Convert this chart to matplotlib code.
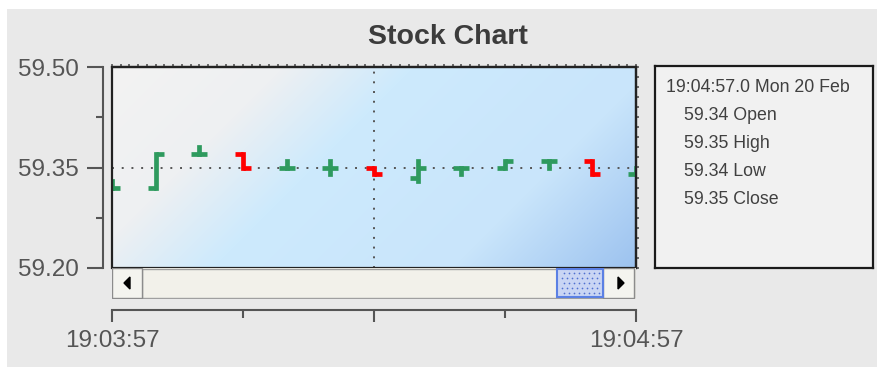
import numpy as np
import matplotlib
matplotlib.use('Agg')
import matplotlib.pyplot as plt
from matplotlib.patches import Rectangle, Polygon
from matplotlib.colors import to_rgb

plt.rcParams['font.family'] = ['Liberation Sans', 'DejaVu Sans']

# data: 5 second bars, x in seconds from 19:03:57
times = [0, 5, 10, 15, 20, 25, 30, 35, 40, 45, 50, 55, 60]
opens = [59.32, 59.32, 59.37, 59.37, 59.35, 59.35, 59.35, 59.335, 59.35, 59.35, 59.36, 59.36, 59.34]
highs = [59.33, 59.37, 59.38, 59.37, 59.36, 59.36, 59.35, 59.36, 59.35, 59.36, 59.36, 59.36, 59.35]
lows = [59.32, 59.32, 59.37, 59.35, 59.35, 59.34, 59.34, 59.33, 59.34, 59.35, 59.35, 59.34, 59.34]
closes = [59.32, 59.37, 59.37, 59.35, 59.35, 59.35, 59.34, 59.35, 59.35, 59.36, 59.36, 59.34, 59.35]

y_ticks = [59.20, 59.35, 59.50]
y_minor = [59.275, 59.425]
x_ticks = [0, 30, 60]
x_labels = ['19:03:57', '', '19:04:57']
x_minor = [15, 45]
cross_x = 30
cross_y = 59.35
legend_time = '19:04:57.0 Mon 20 Feb'

W, H = 878, 367
fig = plt.figure(figsize=(W / 100, H / 100), dpi=100)
fig.patch.set_facecolor('white')
fig.patches.append(Rectangle((7 / W, 0), 1, 1 - 9 / H, transform=fig.transFigure,
                             facecolor='#e9e9e9', edgecolor='none', zorder=-10))

def box(x0, y0, x1, y1):
    return [x0 / W, 1 - y1 / H, (x1 - x0) / W, (y1 - y0) / H]

fig.text(448 / W, 1 - 37 / H, 'Stock Chart', ha='center', va='center',
         fontsize=20.5, fontweight='bold', color='#3c3c3c')

# main plot
ax = fig.add_axes(box(112, 67, 636, 268))
ax.set_xlim(0, 60)
ax.set_ylim(59.20, 59.50)

# background gradient
gx, gy = np.meshgrid(np.arange(524), np.arange(201))
s = gx + gy
stops = [0, 170, 300, 540, 725]
cols = [to_rgb(c) for c in ['#f3f3f3', '#eef0f2', '#cdeafd', '#c9e5fb', '#9cc2ef']]
img = np.dstack([np.interp(s, stops, [c[i] for c in cols]) for i in range(3)])
ax.imshow(img, extent=[0, 1, 0, 1], transform=ax.transAxes, aspect='auto', zorder=0)

# crosshair
ax.axvline(cross_x, color='#555555', lw=1.4, ls=(0, (1, 4)), zorder=2)
ax.axhline(cross_y, color='#555555', lw=1.4, ls=(0, (1, 4)), zorder=2)

# OHLC bars
w = 0.9
for t, o, h, l, c in zip(times, opens, highs, lows, closes):
    col = '#2e9a5e' if c >= o else '#ff0000'
    ax.plot([t, t], [l, h], color=col, lw=3.4, solid_capstyle='projecting', zorder=3)
    ax.plot([t - w, t], [o, o], color=col, lw=3.4, solid_capstyle='butt', zorder=3)
    ax.plot([t, t + w], [c, c], color=col, lw=3.4, solid_capstyle='butt', zorder=3)

# frame
for sp in ['top', 'right']:
    ax.spines[sp].set_color('#222222')
    ax.spines[sp].set_linewidth(1.6)
ax.add_patch(Rectangle((0, 0), 1, 1, transform=ax.transAxes, fill=False,
                       edgecolor='#222222', lw=1.6, zorder=5, clip_on=False))

# axes lines offset outward
ax.spines['left'].set_position(('outward', 6.5))
ax.spines['bottom'].set_position(('outward', 30))
for sp in ['left', 'bottom']:
    ax.spines[sp].set_color('#555555')
    ax.spines[sp].set_linewidth(1.5)

ax.set_yticks(y_ticks)
ax.set_yticklabels(['%.2f' % v for v in y_ticks])
ax.set_yticks(y_minor, minor=True)
ax.set_xticks(x_ticks)
ax.set_xticklabels(x_labels)
ax.set_xticks(x_minor, minor=True)
ax.tick_params(axis='y', which='major', length=11.5, width=1.5, color='#555555',
               labelsize=17.5, labelcolor='#555555', pad=6)
ax.tick_params(axis='y', which='minor', length=5, width=1.5, color='#555555')
ax.tick_params(axis='x', which='major', length=8.6, width=1.5, color='#555555',
               labelsize=17.5, labelcolor='#555555', pad=6)
ax.tick_params(axis='x', which='minor', length=5.8, width=1.5, color='#555555')

# small ticks on top and right edges
top = ax.secondary_xaxis('top')
top.set_xticks(np.arange(0, 61, 1))
top.tick_params(length=2, width=1.2, color='#555555', labelsize=0, labeltop=False)
top.spines['top'].set_visible(False)
right = ax.secondary_yaxis('right')
right.set_yticks(np.arange(59.20, 59.501, 0.015))
right.tick_params(length=2, width=1.2, color='#555555', labelright=False)
right.spines['right'].set_visible(False)

# scrollbar
sb = fig.add_axes(box(112, 268, 636, 299))
sb.set_xlim(0, 524)
sb.set_ylim(31, 0)
sb.axis('off')
sb.add_patch(Rectangle((0, 0), 524, 31, facecolor='#f2f1ea', edgecolor='none'))
sb.add_patch(Rectangle((30, 1), 492, 29, facecolor='none', edgecolor='#a0a0a0', lw=1))
sb.add_patch(Rectangle((0, 0), 30, 30, facecolor='#f4f4ef', edgecolor='#8c8c8c', lw=1))
sb.add_patch(Rectangle((491, 0), 31, 30, facecolor='#f4f4ef', edgecolor='#8c8c8c', lw=1))
sb.add_patch(Rectangle((445, 1), 46, 28, facecolor='#c9d5f4', edgecolor='#5b80e4', lw=1.5))
dx, dy = np.meshgrid(np.arange(450, 488, 5), np.arange(5, 28, 5))
sb.scatter(dx.ravel() + (dy.ravel() % 10) / 2, dy.ravel(), s=1.5, color='#5070d0', lw=0)
sb.add_patch(Polygon([[12, 15], [18, 9], [18, 21]], color='black'))
sb.add_patch(Polygon([[512, 15], [506, 9], [506, 21]], color='black'))

# legend box
lg = fig.add_axes(box(655, 66, 873, 268))
lg.set_xlim(0, 218)
lg.set_ylim(202, 0)
lg.set_xticks([])
lg.set_yticks([])
lg.set_facecolor('#f1f1f1')
for sp in lg.spines.values():
    sp.set_color('#1a1a1a')
    sp.set_linewidth(1.6)
lines = ['%.2f Open' % opens[-1], '%.2f High' % highs[-1],
         '%.2f Low' % lows[-1], '%.2f Close' % closes[-1]]
lg.text(11, 21, legend_time, fontsize=12.8, color='#404040', va='center')
for i, txt in enumerate(lines):
    lg.text(29, 49 + i * 28, txt, fontsize=12.8, color='#404040', va='center')

fig.savefig('out.png', dpi=100)
